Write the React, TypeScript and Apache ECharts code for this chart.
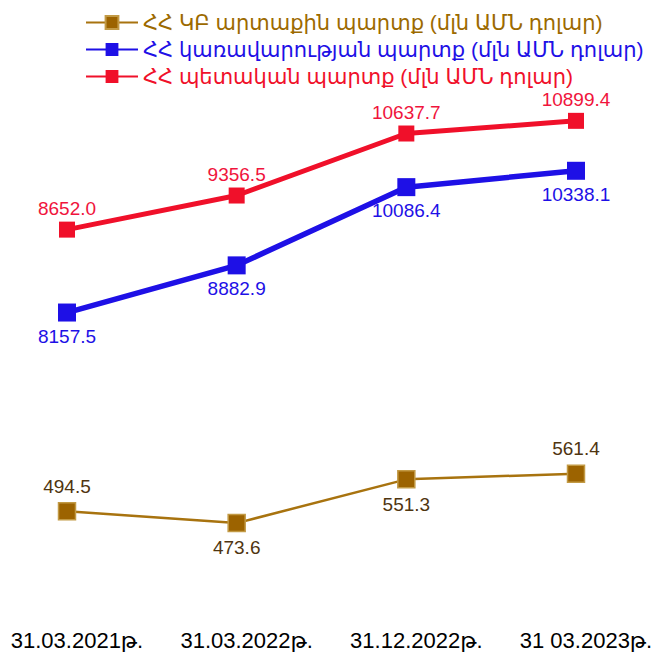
import React, { useEffect, useRef } from "react";
import * as echarts from "echarts";

const categories = ["31.03.2021թ.", "31.03.2022թ.", "31.12.2022թ.", "31 03.2023թ."];
const seriesNames = [
  "ՀՀ ԿԲ արտաքին պարտք (մլն ԱՄՆ դոլար)",
  "ՀՀ կառավարության պարտք (մլն ԱՄՆ դոլար)",
  "ՀՀ պետական պարտք (մլն ԱՄՆ դոլար)",
];
const cbDebt = [494.5, 473.6, 551.3, 561.4];
const govDebt = [8157.5, 8882.9, 10086.4, 10338.1];
const stateDebt = [8652.0, 9356.5, 10637.7, 10899.4];
const cbLabelPos = ["top", "bottom", "bottom", "top"];

const FONT = "'Liberation Sans', Arial, 'DejaVu Sans', sans-serif";
const BROWN = "#A8730F";
const BROWN_MARK = "#9C6300";
const BLUE = "#1E10E6";
const RED = "#F0102A";

export default function App() {
  const ref = useRef<HTMLDivElement>(null);
  useEffect(() => {
    if (!ref.current) return;
    const chart = echarts.init(ref.current, null, { renderer: "svg" });
    const fmt = (p: any) => Number(p.value).toFixed(1);
    chart.setOption({
      animation: false,
      backgroundColor: "#ffffff",
      textStyle: { fontFamily: FONT },
      legend: {
        orient: "vertical",
        left: 80,
        top: 7,
        itemWidth: 52,
        itemHeight: 16,
        itemGap: 6,
        textStyle: { fontSize: 21, fontFamily: FONT },
        data: [
          { name: seriesNames[0], textStyle: { color: "#9C6A00" } },
          { name: seriesNames[1], textStyle: { color: BLUE } },
          { name: seriesNames[2], textStyle: { color: RED } },
        ],
      },
      grid: { top: 100, bottom: 56, left: 67, right: 82 },
      xAxis: {
        type: "category",
        data: categories,
        boundaryGap: false,
        axisLine: { show: false },
        axisTick: { show: false },
        axisLabel: {
          interval: 0,
          hideOverlap: false,
          fontSize: 22,
          color: "#000",
          margin: 29,
          padding: [0, 0, 0, 20],
          fontFamily: FONT,
        },
      },
      yAxis: [
        { type: "value", show: false, min: 337, max: 1225 },
        { type: "value", show: false, min: 3735, max: 11427 },
        { type: "value", show: false, min: 1000, max: 11330 },
      ],
      series: [
        {
          name: seriesNames[0],
          type: "line",
          yAxisIndex: 0,
          data: cbDebt.map((v, i) => ({ value: v, label: { position: cbLabelPos[i] } })),
          symbol: "rect",
          symbolSize: 17,
          lineStyle: { color: BROWN, width: 2.5 },
          itemStyle: { color: BROWN_MARK, borderColor: "#C29A45", borderWidth: 1.5 },
          label: { show: true, formatter: fmt, fontSize: 19, color: "#4F3510", distance: 6, fontFamily: FONT },
        },
        {
          name: seriesNames[1],
          type: "line",
          yAxisIndex: 1,
          data: govDebt,
          symbol: "rect",
          symbolSize: 18,
          lineStyle: { color: BLUE, width: 5.5 },
          itemStyle: { color: BLUE },
          label: { show: true, position: "bottom", formatter: fmt, fontSize: 19, color: BLUE, distance: 5, fontFamily: FONT },
        },
        {
          name: seriesNames[2],
          type: "line",
          yAxisIndex: 2,
          data: stateDebt,
          symbol: "rect",
          symbolSize: 16,
          lineStyle: { color: RED, width: 5 },
          itemStyle: { color: RED },
          label: { show: true, position: "top", formatter: fmt, fontSize: 19, color: "#F0143C", distance: 4, fontFamily: FONT },
        },
      ],
    });
    return () => chart.dispose();
  }, []);
  return (
    <div
      ref={ref}
      style={{ position: "fixed", left: 0, top: 0, width: 658, height: 656 }}
    />
  );
}
